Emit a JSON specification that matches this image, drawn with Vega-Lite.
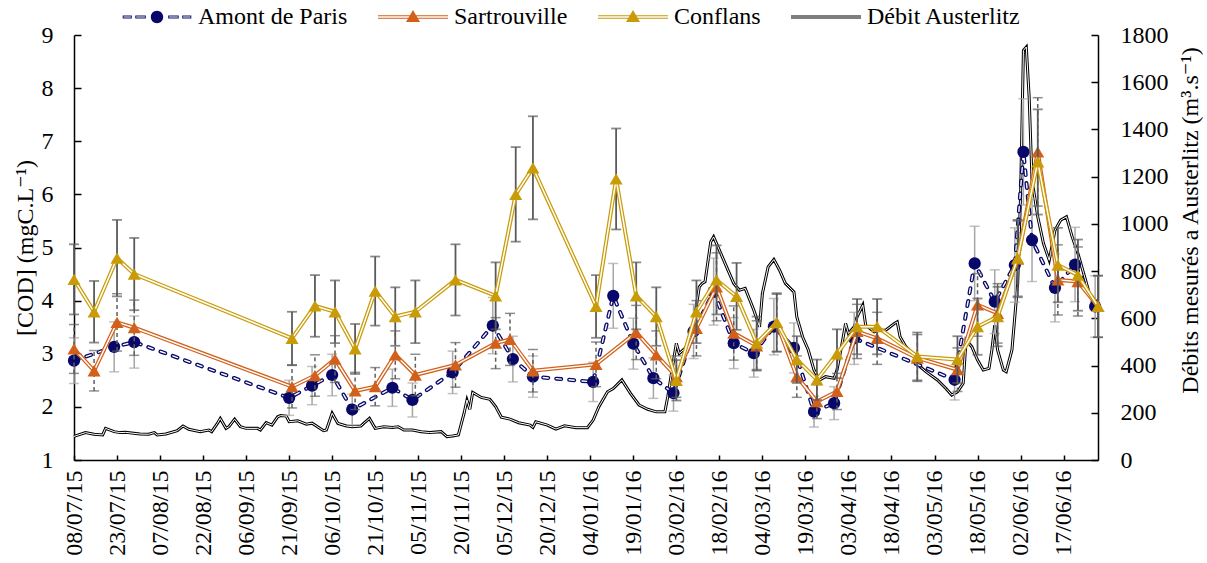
{
  "$schema": "https://vega.github.io/schema/vega-lite/v6.json",
  "width": 1024,
  "height": 425,
  "autosize": {"type": "none"},
  "padding": {"left": 74, "top": 35, "right": 109, "bottom": 103},
  "background": "white",
  "config": {"font": "Liberation Serif, Times New Roman, Times, DejaVu Serif, Noto Serif, FreeSerif, Tinos, serif", "view": {"stroke": null}},
  "datasets": {
    "amont": [
      {"date": "2015-07-08", "v": 2.87, "e": 0.43},
      {"date": "2015-07-22", "v": 3.13, "e": 0.47},
      {"date": "2015-07-29", "v": 3.22, "e": 0.49},
      {"date": "2015-09-21", "v": 2.17, "e": 0.33},
      {"date": "2015-09-29", "v": 2.40, "e": 0.36},
      {"date": "2015-10-06", "v": 2.60, "e": 0.39},
      {"date": "2015-10-13", "v": 1.95, "e": 0.29},
      {"date": "2015-10-27", "v": 2.36, "e": 0.35},
      {"date": "2015-11-03", "v": 2.13, "e": 0.32},
      {"date": "2015-11-17", "v": 2.65, "e": 0.40},
      {"date": "2015-12-01", "v": 3.53, "e": 0.53},
      {"date": "2015-12-08", "v": 2.90, "e": 0.43},
      {"date": "2015-12-15", "v": 2.57, "e": 0.39},
      {"date": "2016-01-05", "v": 2.47, "e": 0.37},
      {"date": "2016-01-12", "v": 4.09, "e": 0.61},
      {"date": "2016-01-19", "v": 3.19, "e": 0.48},
      {"date": "2016-01-26", "v": 2.54, "e": 0.38},
      {"date": "2016-02-02", "v": 2.26, "e": 0.34},
      {"date": "2016-02-09", "v": 3.42, "e": 0.51},
      {"date": "2016-02-16", "v": 4.17, "e": 0.63},
      {"date": "2016-02-23", "v": 3.20, "e": 0.48},
      {"date": "2016-03-01", "v": 3.01, "e": 0.45},
      {"date": "2016-03-08", "v": 3.51, "e": 0.53},
      {"date": "2016-03-15", "v": 3.11, "e": 0.47},
      {"date": "2016-03-22", "v": 1.91, "e": 0.29},
      {"date": "2016-03-29", "v": 2.07, "e": 0.31},
      {"date": "2016-04-05", "v": 3.29, "e": 0.49},
      {"date": "2016-05-10", "v": 2.51, "e": 0.38},
      {"date": "2016-05-17", "v": 4.70, "e": 0.70},
      {"date": "2016-05-24", "v": 3.98, "e": 0.60},
      {"date": "2016-05-31", "v": 4.67, "e": 0.70},
      {"date": "2016-06-03", "v": 6.80, "e": 1.00},
      {"date": "2016-06-06", "v": 5.14, "e": 0.78},
      {"date": "2016-06-14", "v": 4.24, "e": 0.64},
      {"date": "2016-06-21", "v": 4.68, "e": 0.70},
      {"date": "2016-06-28", "v": 3.89, "e": 0.58}
    ],
    "sart": [
      {"date": "2015-07-08", "v": 3.09, "e": 0.46},
      {"date": "2015-07-15", "v": 2.68, "e": 0.38},
      {"date": "2015-07-23", "v": 3.59, "e": 0.54},
      {"date": "2015-07-29", "v": 3.49, "e": 0.52},
      {"date": "2015-09-22", "v": 2.38, "e": 0.40},
      {"date": "2015-09-30", "v": 2.59, "e": 0.39},
      {"date": "2015-10-07", "v": 2.90, "e": 0.44},
      {"date": "2015-10-14", "v": 2.30, "e": 0.35},
      {"date": "2015-10-21", "v": 2.38, "e": 0.36},
      {"date": "2015-10-28", "v": 2.98, "e": 0.45},
      {"date": "2015-11-04", "v": 2.60, "e": 0.39},
      {"date": "2015-11-18", "v": 2.79, "e": 0.42},
      {"date": "2015-12-02", "v": 3.20, "e": 0.48},
      {"date": "2015-12-07", "v": 3.27, "e": 0.49},
      {"date": "2015-12-15", "v": 2.68, "e": 0.40},
      {"date": "2016-01-06", "v": 2.80, "e": 0.42},
      {"date": "2016-01-20", "v": 3.40, "e": 0.51},
      {"date": "2016-01-27", "v": 2.98, "e": 0.45},
      {"date": "2016-02-03", "v": 2.57, "e": 0.39},
      {"date": "2016-02-10", "v": 3.48, "e": 0.52},
      {"date": "2016-02-17", "v": 4.26, "e": 0.64},
      {"date": "2016-02-23", "v": 3.39, "e": 0.51},
      {"date": "2016-03-02", "v": 3.15, "e": 0.47},
      {"date": "2016-03-09", "v": 3.58, "e": 0.54},
      {"date": "2016-03-16", "v": 2.57, "e": 0.39},
      {"date": "2016-03-23", "v": 2.10, "e": 0.32},
      {"date": "2016-03-30", "v": 2.29, "e": 0.34},
      {"date": "2016-04-06", "v": 3.42, "e": 0.51},
      {"date": "2016-04-13", "v": 3.29, "e": 0.49},
      {"date": "2016-04-27", "v": 2.92, "e": 0.44},
      {"date": "2016-05-11", "v": 2.70, "e": 0.41},
      {"date": "2016-05-18", "v": 3.92, "e": 0.59},
      {"date": "2016-05-25", "v": 3.76, "e": 0.56},
      {"date": "2016-06-01", "v": 4.78, "e": 0.72},
      {"date": "2016-06-08", "v": 6.80, "e": 1.02},
      {"date": "2016-06-15", "v": 4.39, "e": 0.66},
      {"date": "2016-06-22", "v": 4.36, "e": 0.65},
      {"date": "2016-06-29", "v": 3.89, "e": 0.58}
    ],
    "conf": [
      {"date": "2015-07-08", "v": 4.40, "e": 0.66},
      {"date": "2015-07-15", "v": 3.79, "e": 0.58},
      {"date": "2015-07-23", "v": 4.80, "e": 0.72},
      {"date": "2015-07-29", "v": 4.50, "e": 0.68},
      {"date": "2015-09-22", "v": 3.29, "e": 0.50},
      {"date": "2015-09-30", "v": 3.90, "e": 0.58},
      {"date": "2015-10-07", "v": 3.79, "e": 0.59},
      {"date": "2015-10-14", "v": 3.09, "e": 0.47},
      {"date": "2015-10-21", "v": 4.18, "e": 0.65},
      {"date": "2015-10-28", "v": 3.70, "e": 0.55},
      {"date": "2015-11-04", "v": 3.79, "e": 0.59},
      {"date": "2015-11-18", "v": 4.39, "e": 0.67},
      {"date": "2015-12-02", "v": 4.09, "e": 0.63},
      {"date": "2015-12-09", "v": 6.00, "e": 0.89},
      {"date": "2015-12-15", "v": 6.50, "e": 0.97},
      {"date": "2016-01-06", "v": 3.89, "e": 0.59},
      {"date": "2016-01-13", "v": 6.29, "e": 0.95},
      {"date": "2016-01-20", "v": 4.09, "e": 0.63},
      {"date": "2016-01-27", "v": 3.70, "e": 0.55},
      {"date": "2016-02-03", "v": 2.50, "e": 0.38},
      {"date": "2016-02-10", "v": 3.79, "e": 0.59},
      {"date": "2016-02-17", "v": 4.39, "e": 0.65},
      {"date": "2016-02-24", "v": 4.08, "e": 0.63},
      {"date": "2016-03-02", "v": 3.20, "e": 0.50},
      {"date": "2016-03-09", "v": 3.59, "e": 0.55},
      {"date": "2016-03-16", "v": 2.89, "e": 0.44},
      {"date": "2016-03-23", "v": 2.51, "e": 0.38},
      {"date": "2016-03-30", "v": 3.00, "e": 0.46},
      {"date": "2016-04-06", "v": 3.51, "e": 0.52},
      {"date": "2016-04-13", "v": 3.51, "e": 0.52},
      {"date": "2016-04-27", "v": 2.95, "e": 0.45},
      {"date": "2016-05-11", "v": 2.89, "e": 0.44},
      {"date": "2016-05-18", "v": 3.51, "e": 0.53},
      {"date": "2016-05-25", "v": 3.70, "e": 0.56},
      {"date": "2016-06-01", "v": 4.80, "e": 0.72},
      {"date": "2016-06-08", "v": 6.61, "e": 0.99},
      {"date": "2016-06-15", "v": 4.67, "e": 0.70},
      {"date": "2016-06-22", "v": 4.48, "e": 0.67},
      {"date": "2016-06-29", "v": 3.89, "e": 0.58}
    ],
    "debit": [
      {"date": "2015-07-08", "q": 100}, {"date": "2015-07-12", "q": 116}, {"date": "2015-07-15", "q": 109},
      {"date": "2015-07-18", "q": 106}, {"date": "2015-07-19", "q": 134}, {"date": "2015-07-22", "q": 120},
      {"date": "2015-07-24", "q": 116}, {"date": "2015-07-26", "q": 117}, {"date": "2015-07-31", "q": 110},
      {"date": "2015-08-03", "q": 109}, {"date": "2015-08-05", "q": 116}, {"date": "2015-08-06", "q": 106},
      {"date": "2015-08-09", "q": 110}, {"date": "2015-08-13", "q": 124}, {"date": "2015-08-15", "q": 144},
      {"date": "2015-08-17", "q": 130}, {"date": "2015-08-21", "q": 120}, {"date": "2015-08-24", "q": 127},
      {"date": "2015-08-25", "q": 120}, {"date": "2015-08-27", "q": 155}, {"date": "2015-08-28", "q": 176},
      {"date": "2015-08-30", "q": 134}, {"date": "2015-08-31", "q": 141}, {"date": "2015-09-02", "q": 173},
      {"date": "2015-09-04", "q": 141}, {"date": "2015-09-06", "q": 134}, {"date": "2015-09-10", "q": 134},
      {"date": "2015-09-11", "q": 127}, {"date": "2015-09-13", "q": 158}, {"date": "2015-09-15", "q": 148},
      {"date": "2015-09-17", "q": 183}, {"date": "2015-09-18", "q": 188}, {"date": "2015-09-20", "q": 186},
      {"date": "2015-09-21", "q": 162}, {"date": "2015-09-24", "q": 166}, {"date": "2015-09-27", "q": 152},
      {"date": "2015-09-29", "q": 156}, {"date": "2015-10-03", "q": 124}, {"date": "2015-10-04", "q": 127},
      {"date": "2015-10-06", "q": 198}, {"date": "2015-10-08", "q": 155}, {"date": "2015-10-11", "q": 144},
      {"date": "2015-10-13", "q": 141}, {"date": "2015-10-16", "q": 144}, {"date": "2015-10-17", "q": 155},
      {"date": "2015-10-19", "q": 176}, {"date": "2015-10-21", "q": 134}, {"date": "2015-10-24", "q": 141},
      {"date": "2015-10-27", "q": 138}, {"date": "2015-10-29", "q": 141}, {"date": "2015-10-31", "q": 127},
      {"date": "2015-11-03", "q": 127}, {"date": "2015-11-06", "q": 120}, {"date": "2015-11-09", "q": 116},
      {"date": "2015-11-13", "q": 120}, {"date": "2015-11-15", "q": 99}, {"date": "2015-11-17", "q": 102},
      {"date": "2015-11-19", "q": 106}, {"date": "2015-11-21", "q": 198}, {"date": "2015-11-22", "q": 254},
      {"date": "2015-11-23", "q": 215}, {"date": "2015-11-24", "q": 286}, {"date": "2015-11-27", "q": 265},
      {"date": "2015-11-30", "q": 257}, {"date": "2015-12-02", "q": 226}, {"date": "2015-12-04", "q": 181},
      {"date": "2015-12-07", "q": 173}, {"date": "2015-12-10", "q": 158}, {"date": "2015-12-14", "q": 148},
      {"date": "2015-12-15", "q": 138}, {"date": "2015-12-16", "q": 162}, {"date": "2015-12-20", "q": 148},
      {"date": "2015-12-23", "q": 131}, {"date": "2015-12-26", "q": 145}, {"date": "2015-12-30", "q": 137},
      {"date": "2016-01-03", "q": 137}, {"date": "2016-01-05", "q": 169}, {"date": "2016-01-07", "q": 226},
      {"date": "2016-01-10", "q": 289}, {"date": "2016-01-12", "q": 303}, {"date": "2016-01-15", "q": 339},
      {"date": "2016-01-18", "q": 282}, {"date": "2016-01-21", "q": 233}, {"date": "2016-01-24", "q": 215},
      {"date": "2016-01-27", "q": 204}, {"date": "2016-01-30", "q": 204}, {"date": "2016-01-31", "q": 268},
      {"date": "2016-02-02", "q": 420}, {"date": "2016-02-03", "q": 494}, {"date": "2016-02-04", "q": 451},
      {"date": "2016-02-06", "q": 473}, {"date": "2016-02-08", "q": 508}, {"date": "2016-02-09", "q": 578},
      {"date": "2016-02-11", "q": 733}, {"date": "2016-02-12", "q": 748}, {"date": "2016-02-13", "q": 755},
      {"date": "2016-02-15", "q": 924}, {"date": "2016-02-16", "q": 945}, {"date": "2016-02-18", "q": 889},
      {"date": "2016-02-21", "q": 804}, {"date": "2016-02-23", "q": 748}, {"date": "2016-02-25", "q": 719},
      {"date": "2016-02-27", "q": 727}, {"date": "2016-03-01", "q": 635}, {"date": "2016-03-03", "q": 564},
      {"date": "2016-03-04", "q": 705}, {"date": "2016-03-06", "q": 818}, {"date": "2016-03-08", "q": 849},
      {"date": "2016-03-10", "q": 804}, {"date": "2016-03-12", "q": 748}, {"date": "2016-03-15", "q": 712},
      {"date": "2016-03-16", "q": 606}, {"date": "2016-03-18", "q": 522}, {"date": "2016-03-20", "q": 466},
      {"date": "2016-03-22", "q": 381}, {"date": "2016-03-24", "q": 339}, {"date": "2016-03-26", "q": 353},
      {"date": "2016-03-29", "q": 346}, {"date": "2016-03-30", "q": 381}, {"date": "2016-04-01", "q": 508},
      {"date": "2016-04-02", "q": 578}, {"date": "2016-04-03", "q": 536}, {"date": "2016-04-05", "q": 564},
      {"date": "2016-04-06", "q": 606}, {"date": "2016-04-08", "q": 656}, {"date": "2016-04-09", "q": 571},
      {"date": "2016-04-12", "q": 543}, {"date": "2016-04-14", "q": 550}, {"date": "2016-04-16", "q": 550},
      {"date": "2016-04-19", "q": 578}, {"date": "2016-04-20", "q": 585}, {"date": "2016-04-21", "q": 522},
      {"date": "2016-04-23", "q": 480}, {"date": "2016-04-26", "q": 444}, {"date": "2016-04-28", "q": 395},
      {"date": "2016-04-30", "q": 374}, {"date": "2016-05-04", "q": 339}, {"date": "2016-05-07", "q": 303},
      {"date": "2016-05-09", "q": 275}, {"date": "2016-05-11", "q": 289}, {"date": "2016-05-13", "q": 325},
      {"date": "2016-05-14", "q": 508}, {"date": "2016-05-16", "q": 480}, {"date": "2016-05-18", "q": 423},
      {"date": "2016-05-20", "q": 381}, {"date": "2016-05-22", "q": 388}, {"date": "2016-05-23", "q": 466},
      {"date": "2016-05-24", "q": 571}, {"date": "2016-05-25", "q": 466}, {"date": "2016-05-27", "q": 381},
      {"date": "2016-05-28", "q": 374}, {"date": "2016-05-30", "q": 466}, {"date": "2016-06-01", "q": 748},
      {"date": "2016-06-02", "q": 1114}, {"date": "2016-06-03", "q": 1735}, {"date": "2016-06-04", "q": 1749},
      {"date": "2016-06-05", "q": 1537}, {"date": "2016-06-06", "q": 1185}, {"date": "2016-06-08", "q": 1030},
      {"date": "2016-06-10", "q": 917}, {"date": "2016-06-12", "q": 846}, {"date": "2016-06-14", "q": 973},
      {"date": "2016-06-16", "q": 1016}, {"date": "2016-06-18", "q": 1030}, {"date": "2016-06-20", "q": 945},
      {"date": "2016-06-22", "q": 875}, {"date": "2016-06-24", "q": 790}, {"date": "2016-06-26", "q": 705},
      {"date": "2016-06-29", "q": 663}
    ],
    "legend": [
      {"series": "Amont de Paris"},
      {"series": "Sartrouville"},
      {"series": "Conflans"},
      {"series": "Débit Austerlitz"}
    ]
  },
  "encoding": {
    "x": {
      "field": "date",
      "type": "temporal",
      "scale": {
        "type": "utc",
        "nice": false,
        "domain": [
          {"year": 2015, "month": 7, "date": 8, "utc": true},
          {"year": 2016, "month": 6, "date": 29, "utc": true}
        ]
      },
      "axis": {
        "title": null,
        "grid": false,
        "values": [
          {"year": 2015, "month": 7, "date": 8, "utc": true},
          {"year": 2015, "month": 7, "date": 23, "utc": true},
          {"year": 2015, "month": 8, "date": 7, "utc": true},
          {"year": 2015, "month": 8, "date": 22, "utc": true},
          {"year": 2015, "month": 9, "date": 6, "utc": true},
          {"year": 2015, "month": 9, "date": 21, "utc": true},
          {"year": 2015, "month": 10, "date": 6, "utc": true},
          {"year": 2015, "month": 10, "date": 21, "utc": true},
          {"year": 2015, "month": 11, "date": 5, "utc": true},
          {"year": 2015, "month": 11, "date": 20, "utc": true},
          {"year": 2015, "month": 12, "date": 5, "utc": true},
          {"year": 2015, "month": 12, "date": 20, "utc": true},
          {"year": 2016, "month": 1, "date": 4, "utc": true},
          {"year": 2016, "month": 1, "date": 19, "utc": true},
          {"year": 2016, "month": 2, "date": 3, "utc": true},
          {"year": 2016, "month": 2, "date": 18, "utc": true},
          {"year": 2016, "month": 3, "date": 4, "utc": true},
          {"year": 2016, "month": 3, "date": 19, "utc": true},
          {"year": 2016, "month": 4, "date": 3, "utc": true},
          {"year": 2016, "month": 4, "date": 18, "utc": true},
          {"year": 2016, "month": 5, "date": 3, "utc": true},
          {"year": 2016, "month": 5, "date": 18, "utc": true},
          {"year": 2016, "month": 6, "date": 2, "utc": true},
          {"year": 2016, "month": 6, "date": 17, "utc": true}
        ],
        "labelExpr": "utcFormat(datum.value, '%d/%m/%y')",
        "labelAngle": -90,
        "labelFontSize": 24,
        "labelColor": "#000000",
        "labelFlush": false,
        "labelOverlap": false,
        "labelPadding": 15,
        "tickSize": -5,
        "tickColor": "#000000",
        "tickWidth": 1.5,
        "domainColor": "#000000",
        "domainWidth": 1.5
      }
    }
  },
  "resolve": {"scale": {"y": "independent"}, "axis": {"y": "independent"}},
  "layer": [
    {
      "data": {"name": "debit"},
      "encoding": {
        "y": {
          "field": "q",
          "type": "quantitative",
          "scale": {"domain": [0, 1800], "nice": false, "zero": true},
          "axis": {
            "orient": "right",
            "values": [0, 200, 400, 600, 800, 1000, 1200, 1400, 1600, 1800],
            "format": "d",
            "grid": false,
            "title": "Débits mesurés a Austerlitz (m³.s⁻¹)",
            "titleFontSize": 24,
            "titleFontWeight": "normal",
            "titleColor": "#000000",
            "titleAngle": -90,
            "titleBaseline": "top",
            "titlePadding": 10,
            "titleY": 185,
            "labelFontSize": 24,
            "labelColor": "#000000",
            "labelPadding": 29,
            "tickSize": -7,
            "tickColor": "#000000",
            "tickWidth": 1.5,
            "domainColor": "#000000",
            "domainWidth": 1.5
          }
        }
      },
      "layer": [
        {"mark": {"type": "line", "color": "#000000", "strokeWidth": 3, "interpolate": "linear"}},
        {"mark": {"type": "line", "color": "#ffffff", "strokeWidth": 1, "interpolate": "linear"}}
      ]
    },
    {
      "encoding": {
        "y": {
          "field": "v",
          "type": "quantitative",
          "scale": {"domain": [1, 9], "nice": false, "zero": false},
          "axis": {
            "values": [1, 2, 3, 4, 5, 6, 7, 8, 9],
            "grid": false,
            "title": "[COD] (mgC.L⁻¹)",
            "titleFontSize": 24,
            "titleFontWeight": "normal",
            "titleColor": "#000000",
            "titlePadding": 4,
            "labelFontSize": 24,
            "labelColor": "#000000",
            "labelPadding": 28,
            "tickSize": -7,
            "tickColor": "#000000",
            "tickWidth": 1.5,
            "domainColor": "#000000",
            "domainWidth": 1.5
          }
        }
      },
      "layer": [
        {
          "data": {"name": "amont"},
          "mark": {"type": "errorbar", "ticks": true, "size": 10, "thickness": 1.5, "color": "#a6a6a6"},
          "encoding": {"yError": {"field": "e"}}
        },
        {
          "data": {"name": "amont"},
          "mark": {"type": "line", "color": "#08086a", "strokeWidth": 4, "strokeDash": [5, 8], "strokeCap": "round"}
        },
        {
          "data": {"name": "amont"},
          "mark": {"type": "line", "color": "#ffffff", "strokeWidth": 1.4, "strokeDash": [5, 8], "strokeCap": "round"}
        },
        {
          "data": {"name": "amont"},
          "mark": {"type": "point", "shape": "circle", "filled": true, "size": 150, "color": "#08086a", "opacity": 1}
        },
        {
          "data": {"name": "sart"},
          "mark": {"type": "errorbar", "ticks": true, "size": 10, "thickness": 1.5, "color": "#5f5f5f", "rule": {"strokeDash": [4, 3]}},
          "encoding": {"yError": {"field": "e"}}
        },
        {
          "data": {"name": "sart"},
          "mark": {"type": "line", "color": "#d2601a", "strokeWidth": 4}
        },
        {
          "data": {"name": "sart"},
          "mark": {"type": "line", "color": "#ffffff", "strokeWidth": 1.5}
        },
        {
          "data": {"name": "sart"},
          "mark": {"type": "point", "shape": "triangle-up", "filled": true, "size": 170, "color": "#d2601a", "opacity": 1}
        },
        {
          "data": {"name": "conf"},
          "mark": {"type": "errorbar", "ticks": true, "size": 10, "thickness": 1.8, "color": "#5a5a5a"},
          "encoding": {"yError": {"field": "e"}}
        },
        {
          "data": {"name": "conf"},
          "mark": {"type": "line", "color": "#c89b07", "strokeWidth": 4}
        },
        {
          "data": {"name": "conf"},
          "mark": {"type": "line", "color": "#ffffff", "strokeWidth": 1.5}
        },
        {
          "data": {"name": "conf"},
          "mark": {"type": "point", "shape": "triangle-up", "filled": true, "size": 170, "color": "#c89b07", "opacity": 1}
        }
      ]
    },
    {
      "data": {"name": "legend"},
      "mark": {"type": "point", "filled": true, "opacity": 0},
      "encoding": {
        "color": {
          "field": "series",
          "type": "nominal",
          "scale": {
            "domain": ["Amont de Paris", "Sartrouville", "Conflans", "Débit Austerlitz"],
            "range": ["#08086a", "#d2601a", "#c89b07", "#000000"]
          },
          "legend": {
            "orient": "none", "legendX": 48, "legendY": -30, "direction": "horizontal", "title": null,
            "symbolSize": 4900, "clipHeight": 24, "labelFontSize": 24,
            "labelColor": "#000000", "labelOffset": 6, "columnPadding": 30, "symbolStrokeWidth": 0,
            "symbolOpacity": 1, "padding": 0, "labelLimit": 400
          }
        },
        "shape": {
          "field": "series",
          "type": "nominal",
          "scale": {
            "domain": ["Amont de Paris", "Sartrouville", "Conflans", "Débit Austerlitz"],
            "range": [
              "M-0.98,-0.046L-0.72,-0.046L-0.72,0.046L-0.98,0.046Z M-0.955,-0.017L-0.955,0.017L-0.745,0.017L-0.745,-0.017Z M-0.62,-0.046L-0.32,-0.046L-0.32,0.046L-0.62,0.046Z M-0.595,-0.017L-0.595,0.017L-0.345,0.017L-0.345,-0.017Z M0.32,-0.046L0.62,-0.046L0.62,0.046L0.32,0.046Z M0.345,-0.017L0.345,0.017L0.595,0.017L0.595,-0.017Z M0.72,-0.046L0.98,-0.046L0.98,0.046L0.72,0.046Z M0.745,-0.017L0.745,0.017L0.955,0.017L0.955,-0.017Z M0.177,0C0.177,0.0978 0.0978,0.177 0,0.177C-0.0978,0.177 -0.177,0.0978 -0.177,0C-0.177,-0.0978 -0.0978,-0.177 0,-0.177C0.0978,-0.177 0.177,-0.0978 0.177,0Z",
              "M-1,-0.05L1,-0.05L1,0.05L-1,0.05Z M-1,-0.018L-1,0.018L1,0.018L1,-0.018Z M0,-0.2L0.2,0.14L-0.2,0.14Z",
              "M-1,-0.05L1,-0.05L1,0.05L-1,0.05Z M-1,-0.018L-1,0.018L1,0.018L1,-0.018Z M0,-0.2L0.2,0.14L-0.2,0.14Z",
              "M-1,-0.045L1,-0.045L1,0.045L-1,0.045Z M-1,-0.015L-1,0.015L1,0.015L1,-0.015Z"
            ]
          },
          "legend": {
            "orient": "none", "legendX": 48, "legendY": -30, "direction": "horizontal", "title": null,
            "symbolSize": 4900, "clipHeight": 24, "labelFontSize": 24,
            "labelColor": "#000000", "labelOffset": 6, "columnPadding": 30, "symbolStrokeWidth": 0,
            "symbolOpacity": 1, "padding": 0, "labelLimit": 400
          }
        }
      }
    }
  ]
}
